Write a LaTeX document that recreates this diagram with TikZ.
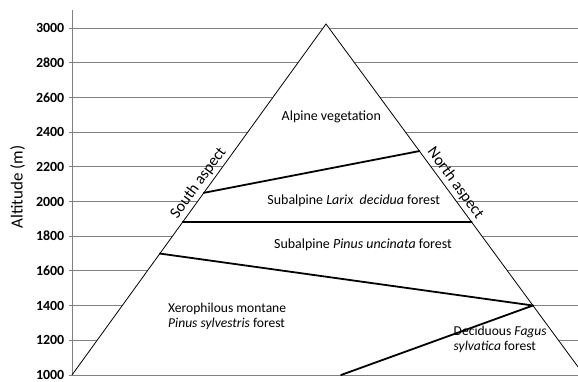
\documentclass[tikz,border=0pt]{standalone}
\usepackage{fontspec}
\setmainfont{Carlito}
\usetikzlibrary{calc}
\tikzset{
    gridline/.style={draw=black!50, line width=1bp},
    side/.style={draw=black, line width=0.8bp, line join=miter},
    bound/.style={draw=black, line width=1.8bp, line cap=round},
    ticklbl/.style={anchor=east, inner sep=0pt, font=\fontsize{14}{16}\selectfont\bfseries},
    axislbl/.style={inner sep=0pt, font=\fontsize{17}{20}\selectfont, rotate=90},
    zonelbl/.style={anchor=base, inner sep=0pt, font=\fontsize{14}{16}\selectfont},
    zonelbl2/.style={anchor=base west, inner sep=0pt, align=left, font=\fontsize{13.6}{#1}\selectfont},
    aspectlbl/.style={font=\fontsize{16}{18}\selectfont, inner sep=3pt}
}
\begin{document}
\begin{tikzpicture}[x=1bp, y=1bp]
            \useasboundingbox (0,0) rectangle (578,381);
            \clip (0,0) rectangle (578,381);
            \foreach \alt in {1200,1400,...,3000} {
                \pgfmathsetmacro{\yy}{6+(\alt-1000)*0.1735}
                \draw[gridline] (69,\yy) -- (578,\yy);
            }
            \foreach \alt in {1000,1200,...,3000} {
                \pgfmathsetmacro{\yy}{6+(\alt-1000)*0.1735}
                \node[ticklbl] (t\alt) at (64.5,\yy) {\alt};
            }
            \draw[gridline] (72,6) -- (72,371);
            \coordinate (sw) at (72,6);
            \coordinate (top) at (326,357);
            \coordinate (se) at (584,6);
            \fill[white] (sw) -- (top) -- (se) -- cycle;
            \draw[side] (sw) -- (top) -- (se);
            \draw[gridline] (69,6) -- (578,6);
            \coordinate (larixS) at ($(sw)!0.519!(top)$);
            \coordinate (larixN) at ($(se)!0.638!(top)$);
            \coordinate (uncS) at ($(sw)!0.435!(top)$);
            \coordinate (uncN) at ($(se)!0.435!(top)$);
            \coordinate (sylvS) at ($(sw)!0.346!(top)$);
            \coordinate (fagusN) at ($(se)!0.198!(top)$);
            \coordinate (fagusB) at (341,6);
            \draw[bound] (larixS) -- (larixN);
            \draw[bound] (uncS) -- (uncN);
            \draw[bound] (sylvS) -- (fagusN);
            \draw[bound] (fagusB) -- (fagusN);
            \path (sw) -- (top) node[aspectlbl, pos=0.53, sloped, above] (south) {South aspect};
            \path (top) -- (se) node[aspectlbl, pos=0.47, sloped, above] (north) {North aspect};
            \node[axislbl] (ylab) at (17.5,194) {Altitude (m)};
            \node[zonelbl] (alpine) at (331.3,260.3) {Alpine vegetation};
            \node[zonelbl] (larix) at (353.8,177) {Subalpine \textit{Larix\ \ decidua} forest};
            \node[zonelbl] (uncinata) at (363,132.7) {Subalpine \textit{Pinus uncinata} forest};
            \node[zonelbl2=15.7] (sylvestris) at (168,53.3) {Xerophilous montane\\\textit{Pinus sylvestris} forest};
            \node[zonelbl2=15] (fagus) at (453.5,31) {Deciduous \textit{Fagus}\\\textit{sylvatica} forest};
        \end{tikzpicture}
\end{document}
